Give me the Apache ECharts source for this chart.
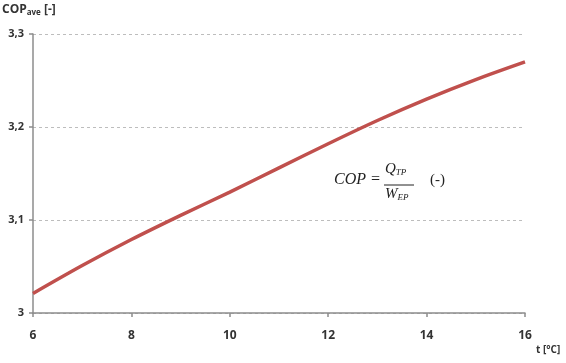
<!DOCTYPE html>
<html>
<head>
<meta charset="utf-8">
<script src="https://cdn.jsdelivr.net/npm/echarts@6/dist/echarts.min.js"></script>
<style>
html,body{margin:0;padding:0;background:#fff;}
#chart{width:566px;height:363px;}
</style>
</head>
<body>
<div id="chart"></div>
<script>
// Outdoor temperature t [°C]
const temperatures = [6, 7, 8, 9, 10, 11, 12, 13, 14, 15, 16];
// Average coefficient of performance at each temperature
const copAverage = [3.021, 3.051, 3.079, 3.105, 3.130, 3.156, 3.182, 3.207, 3.230, 3.251, 3.270];
// Axis tick positions
const xTicks = [6, 8, 10, 12, 14, 16];
const yTicks = [3, 3.1, 3.2, 3.3];

const chart = echarts.init(document.getElementById('chart'), null, {renderer: 'canvas'});
const labelFont = '"Open Sans", "Noto Sans", sans-serif';
const serif = '"Liberation Serif", "DejaVu Serif", serif';
const axisGray = '#8c8c8c';

chart.setOption({
  animation: false,
  backgroundColor: '#ffffff',
  grid: {left: 33, right: 41, top: 34, bottom: 50, containLabel: false},
  xAxis: {
    type: 'value',
    min: xTicks[0],
    max: xTicks[xTicks.length - 1],
    interval: 2,
    axisLine: {show: true, lineStyle: {color: axisGray, width: 1.5}},
    axisTick: {show: true, length: 4, lineStyle: {color: axisGray, width: 1.5}},
    axisLabel: {margin: 17, fontFamily: labelFont, fontWeight: 'bold', fontSize: 12, color: '#333'},
    splitLine: {show: false}
  },
  yAxis: {
    type: 'value',
    min: yTicks[0],
    max: yTicks[yTicks.length - 1],
    interval: 0.1,
    axisLine: {show: true, lineStyle: {color: axisGray, width: 1.5}},
    axisTick: {show: true, length: 4, lineStyle: {color: axisGray, width: 1.5}},
    axisLabel: {
      margin: 9, fontFamily: labelFont, fontWeight: 'bold', fontSize: 11, color: '#333',
      formatter: v => (Math.round(v * 10) / 10).toString().replace('.', ',')
    },
    splitLine: {show: true, lineStyle: {color: '#bdbdbd', type: [3, 3], width: 1}}
  },
  series: [{
    type: 'line',
    data: temperatures.map((t, i) => [t, copAverage[i]]),
    smooth: 0.3,
    showSymbol: false,
    lineStyle: {color: '#c0504d', width: 3.5}
  }],
  graphic: [
    {
      type: 'text', left: 2, top: 4,
      style: {
        rich: {
          m: {fontFamily: labelFont, fontWeight: 'bold', fontSize: 12, fill: '#333'},
          s: {fontFamily: labelFont, fontWeight: 'bold', fontSize: 8, fill: '#333', padding: [6, 0, 0, 0]}
        },
        text: '{m|COP}{s|ave}{m| [-]}'
      }
    },
    {
      type: 'text', left: 536, top: 345,
      style: {text: 't [°C]', fontFamily: labelFont, fontWeight: 'bold', fontSize: 10, fill: '#333'}
    },
    // Formula: COP = Q_TP / W_EP (-)
    {
      type: 'text', left: 334, top: 172,
      style: {text: 'COP =', fontFamily: serif, fontStyle: 'italic', fontSize: 16, fill: '#222'}
    },
    {
      type: 'text', left: 385, top: 162,
      style: {
        rich: {
          m: {fontFamily: serif, fontStyle: 'italic', fontSize: 15, fill: '#222'},
          s: {fontFamily: serif, fontStyle: 'italic', fontSize: 9, fill: '#222', padding: [7, 0, 0, 0]}
        },
        text: '{m|Q}{s|TP}'
      }
    },
    {
      type: 'line', shape: {x1: 384, y1: 185, x2: 414, y2: 185},
      style: {stroke: '#222', lineWidth: 1}
    },
    {
      type: 'text', left: 385, top: 187,
      style: {
        rich: {
          m: {fontFamily: serif, fontStyle: 'italic', fontSize: 15, fill: '#222'},
          s: {fontFamily: serif, fontStyle: 'italic', fontSize: 9, fill: '#222', padding: [7, 0, 0, 0]}
        },
        text: '{m|W}{s|EP}'
      }
    },
    {
      type: 'text', left: 430, top: 173,
      style: {text: '(-)', fontFamily: serif, fontSize: 15, fill: '#222'}
    }
  ]
});
</script>
</body>
</html>
